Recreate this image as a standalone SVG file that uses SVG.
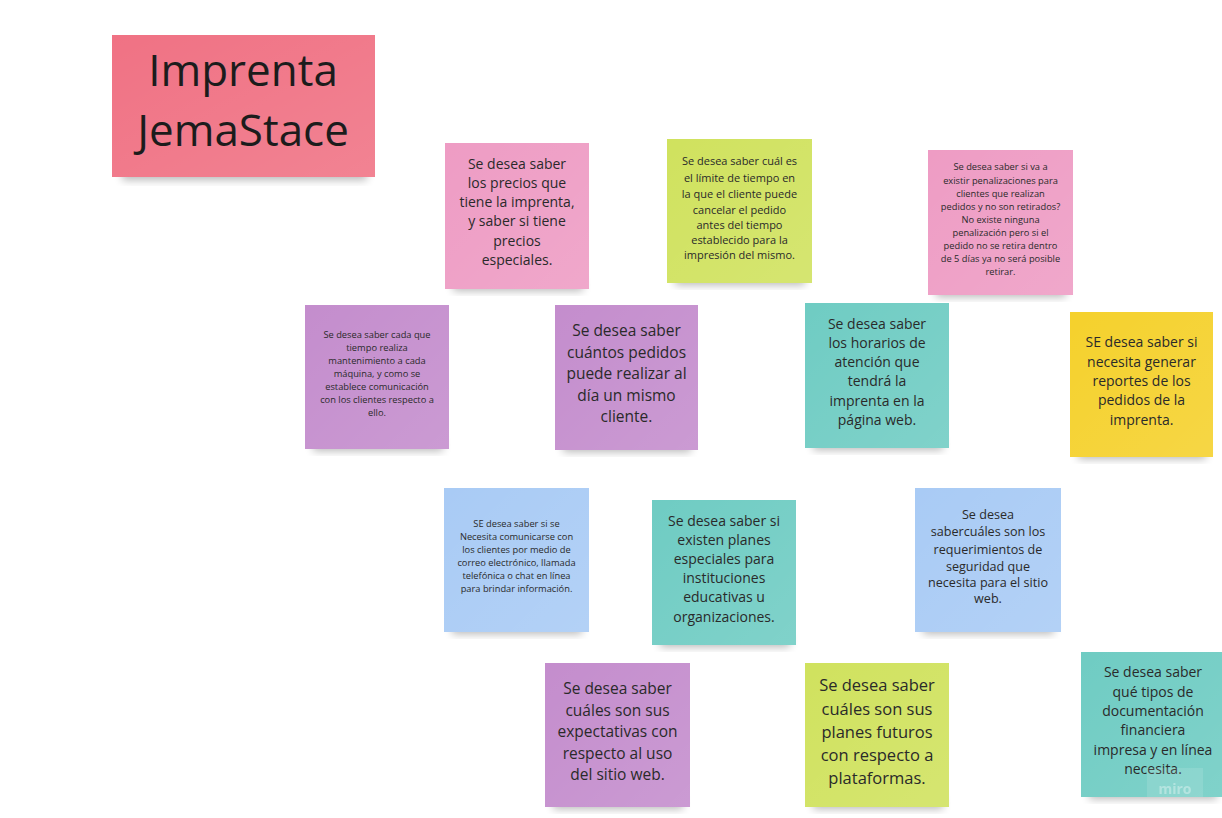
<svg xmlns="http://www.w3.org/2000/svg" width="1222" height="818" viewBox="0 0 1222 818">
<defs>
<filter id="sh" x="-20%" y="-20%" width="140%" height="160%"><feGaussianBlur stdDeviation="4"/></filter>
<linearGradient id="gl" x1="0" y1="0" x2="1" y2="1"><stop offset="0" stop-color="#fff" stop-opacity="0"/><stop offset="1" stop-color="#fff" stop-opacity="0.12"/></linearGradient>
</defs>
<style>
.t{font-family:"Open Sans","Noto Sans",sans-serif;fill:#2a2a2a;text-anchor:middle}
.sh{fill:#000;opacity:0.28;filter:url(#sh)}
.pink{fill:#ee9cc4}.lime{fill:#d0e25e}.purple{fill:#c48dcd}.teal{fill:#6fccc3}.yellow{fill:#f5d12c}.blue{fill:#a9cbf5}.red{fill:#f07284}
.gl{fill:url(#gl)}
</style>
<rect width="1222" height="818" fill="#fff"/>
<g id="connectors"/>
<g id="title">
<rect class="sh" x="122" y="166" width="245" height="14"/>
<rect class="red" x="112" y="35" width="263" height="142"/><rect class="gl" x="112" y="35" width="263" height="142"/>
<text class="t" font-size="44" x="243" y="86" style="fill:#1c1c1c">Imprenta</text>
<text class="t" font-size="44" x="243" y="146" style="fill:#1c1c1c">JemaStace</text>
</g>
<g id="n1">
<rect class="sh" x="453" y="279" width="130" height="12"/>
<rect class="pink" x="445" y="143" width="144" height="146"/><rect class="gl" x="445" y="143" width="144" height="146"/>
<text class="t" font-size="14"><tspan x="517" y="169">Se desea saber</tspan><tspan x="517" y="188">los precios que</tspan><tspan x="517" y="207">tiene la imprenta,</tspan><tspan x="517" y="226">y saber si tiene</tspan><tspan x="517" y="246">precios</tspan><tspan x="517" y="265">especiales.</tspan></text>
</g>
<g id="n2">
<rect class="sh" x="675" y="273" width="130" height="12"/>
<rect class="lime" x="667" y="139" width="145" height="144"/><rect class="gl" x="667" y="139" width="145" height="144"/>
<text class="t" font-size="11"><tspan x="739.5" y="165">Se desea saber cuál es</tspan><tspan x="739.5" y="182">el límite de tiempo en</tspan><tspan x="739.5" y="198">la que el cliente puede</tspan><tspan x="739.5" y="214">cancelar el pedido</tspan><tspan x="739.5" y="229">antes del tiempo</tspan><tspan x="739.5" y="244">establecido para la</tspan><tspan x="739.5" y="259">impresión del mismo.</tspan></text>
</g>
<g id="n3">
<rect class="sh" x="936" y="285" width="130" height="12"/>
<rect class="pink" x="928" y="150" width="145" height="145"/><rect class="gl" x="928" y="150" width="145" height="145"/>
<text class="t" font-size="9.3"><tspan x="1000.5" y="170">Se desea saber si va a</tspan><tspan x="1000.5" y="184">existir penalizaciones para</tspan><tspan x="1000.5" y="197">clientes que realizan</tspan><tspan x="1000.5" y="210">pedidos y no son retirados?</tspan><tspan x="1000.5" y="223">No existe ninguna</tspan><tspan x="1000.5" y="236">penalización pero si el</tspan><tspan x="1000.5" y="249">pedido no se retira dentro</tspan><tspan x="1000.5" y="262">de 5 días ya no será posible</tspan><tspan x="1000.5" y="275">retirar.</tspan></text>
</g>
<g id="n4">
<rect class="sh" x="313" y="439" width="130" height="12"/>
<rect class="purple" x="305" y="305" width="144" height="144"/><rect class="gl" x="305" y="305" width="144" height="144"/>
<text class="t" font-size="9.3"><tspan x="377" y="338">Se desea saber cada que</tspan><tspan x="377" y="351">tiempo realiza</tspan><tspan x="377" y="364">mantenimiento a cada</tspan><tspan x="377" y="377">máquina, y como se</tspan><tspan x="377" y="390">establece comunicación</tspan><tspan x="377" y="403">con los clientes respecto a</tspan><tspan x="377" y="416">ello.</tspan></text>
</g>
<g id="n5">
<rect class="sh" x="563" y="440" width="128" height="12"/>
<rect class="purple" x="555" y="305" width="143" height="145"/><rect class="gl" x="555" y="305" width="143" height="145"/>
<text class="t" font-size="15.5"><tspan x="626.5" y="336">Se desea saber</tspan><tspan x="626.5" y="358">cuántos pedidos</tspan><tspan x="626.5" y="379">puede realizar al</tspan><tspan x="626.5" y="401">día un mismo</tspan><tspan x="626.5" y="422">cliente.</tspan></text>
</g>
<g id="n6">
<rect class="sh" x="813" y="438" width="130" height="12"/>
<rect class="teal" x="805" y="303" width="144" height="145"/><rect class="gl" x="805" y="303" width="144" height="145"/>
<text class="t" font-size="14"><tspan x="877" y="329">Se desea saber</tspan><tspan x="877" y="348">los horarios de</tspan><tspan x="877" y="367">atención que</tspan><tspan x="877" y="386">tendrá la</tspan><tspan x="877" y="406">imprenta en la</tspan><tspan x="877" y="425">página web.</tspan></text>
</g>
<g id="n7">
<rect class="sh" x="1078" y="447" width="128" height="12"/>
<rect class="yellow" x="1070" y="312" width="143" height="145"/><rect class="gl" x="1070" y="312" width="143" height="145"/>
<text class="t" font-size="14"><tspan x="1141.5" y="347">SE desea saber si</tspan><tspan x="1141.5" y="367">necesita generar</tspan><tspan x="1141.5" y="386">reportes de los</tspan><tspan x="1141.5" y="405">pedidos de la</tspan><tspan x="1141.5" y="425">imprenta.</tspan></text>
</g>
<g id="n8">
<rect class="sh" x="452" y="622" width="130" height="12"/>
<rect class="blue" x="444" y="488" width="145" height="144"/><rect class="gl" x="444" y="488" width="145" height="144"/>
<text class="t" font-size="9.3"><tspan x="516.5" y="527">SE desea saber si se</tspan><tspan x="516.5" y="540">Necesita comunicarse con</tspan><tspan x="516.5" y="553">los clientes por medio de</tspan><tspan x="516.5" y="566">correo electrónico, llamada</tspan><tspan x="516.5" y="579">telefónica o chat en línea</tspan><tspan x="516.5" y="592">para brindar información.</tspan></text>
</g>
<g id="n9">
<rect class="sh" x="660" y="635" width="130" height="12"/>
<rect class="teal" x="652" y="500" width="144" height="145"/><rect class="gl" x="652" y="500" width="144" height="145"/>
<text class="t" font-size="14"><tspan x="724" y="526">Se desea saber si</tspan><tspan x="724" y="545">existen planes</tspan><tspan x="724" y="564">especiales para</tspan><tspan x="724" y="583">instituciones</tspan><tspan x="724" y="602">educativas u</tspan><tspan x="724" y="622">organizaciones.</tspan></text>
</g>
<g id="n10">
<rect class="sh" x="923" y="622" width="131" height="12"/>
<rect class="blue" x="915" y="488" width="146" height="144"/><rect class="gl" x="915" y="488" width="146" height="144"/>
<text class="t" font-size="12.6"><tspan x="988" y="518.5">Se desea</tspan><tspan x="988" y="535.5">sabercuáles son los</tspan><tspan x="988" y="553.5">requerimientos de</tspan><tspan x="988" y="570.5">seguridad que</tspan><tspan x="988" y="586.5">necesita para el sitio</tspan><tspan x="988" y="602.5">web.</tspan></text>
</g>
<g id="n11">
<rect class="sh" x="553" y="797" width="130" height="12"/>
<rect class="purple" x="545" y="663" width="145" height="144"/><rect class="gl" x="545" y="663" width="145" height="144"/>
<text class="t" font-size="15.5"><tspan x="617.5" y="694">Se desea saber</tspan><tspan x="617.5" y="716">cuáles son sus</tspan><tspan x="617.5" y="737">expectativas con</tspan><tspan x="617.5" y="759">respecto al uso</tspan><tspan x="617.5" y="780">del sitio web.</tspan></text>
</g>
<g id="n12">
<rect class="sh" x="813" y="797" width="130" height="12"/>
<rect class="lime" x="805" y="663" width="144" height="144"/><rect class="gl" x="805" y="663" width="144" height="144"/>
<text class="t" font-size="16.5"><tspan x="877" y="691">Se desea saber</tspan><tspan x="877" y="715">cuáles son sus</tspan><tspan x="877" y="738">planes futuros</tspan><tspan x="877" y="761">con respecto a</tspan><tspan x="877" y="784">plataformas.</tspan></text>
</g>
<g id="n13">
<rect class="sh" x="1089" y="787" width="128" height="12"/>
<rect class="teal" x="1081" y="652" width="141" height="145"/><rect class="gl" x="1081" y="652" width="141" height="145"/>
<text class="t" font-size="14"><tspan x="1153" y="677">Se desea saber</tspan><tspan x="1153" y="697">qué tipos de</tspan><tspan x="1153" y="716">documentación</tspan><tspan x="1153" y="735">financiera</tspan><tspan x="1153" y="755">impresa y en línea</tspan><tspan x="1153" y="774">necesita.</tspan></text>
</g>
<g id="watermark">
<rect x="1147" y="768" width="56" height="29" fill="#fff" opacity="0.12"/>
<text x="1175" y="794" font-family="'Open Sans',sans-serif" font-size="14" font-weight="bold" fill="#fff" opacity="0.35" text-anchor="middle">miro</text>
</g>
</svg>
